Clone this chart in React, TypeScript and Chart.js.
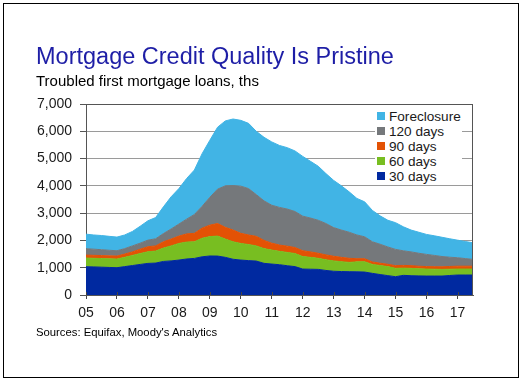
import React, { useEffect, useRef } from "react";
import { Chart, registerables } from "chart.js";

Chart.register(...registerables);

const FIRST_YEAR = 2005;
const LAST_YEAR = 2017;
const QUARTERS: string[] = [];
for (let y = FIRST_YEAR; y <= LAST_YEAR; y++) {
  for (let q = 1; q <= 4; q++) QUARTERS.push(`${y}Q${q}`);
}
const LABELS = QUARTERS.slice(0, 51); // 2005Q1 .. 2017Q3

const Y_TICKS_MAX = 7000;
const Y_STEP = 1000;

// Troubled first mortgage loans, ths (stacked)
const DAYS30 = [1037, 1030, 1020, 1010, 1000, 1040, 1080, 1120, 1158, 1170, 1230, 1250, 1280, 1320, 1341, 1400, 1430, 1427, 1380, 1310, 1280, 1260, 1244, 1160, 1134, 1110, 1073, 1040, 951, 945, 939, 900, 870, 860, 854, 850, 841, 793, 750, 710, 671, 720, 707, 700, 695, 695, 695, 715, 732, 732, 732];
const DAYS60 = [317, 315, 315, 315, 317, 340, 370, 400, 427, 440, 490, 550, 610, 620, 609, 680, 710, 733, 670, 640, 610, 590, 556, 540, 512, 490, 487, 480, 459, 435, 406, 390, 380, 360, 341, 365, 379, 329, 330, 330, 305, 265, 269, 260, 256, 250, 244, 230, 219, 219, 219];
const DAYS90 = [109, 110, 110, 110, 110, 120, 130, 160, 183, 190, 230, 250, 268, 300, 310, 370, 420, 460, 430, 430, 370, 350, 350, 300, 254, 230, 230, 220, 212, 200, 185, 180, 170, 160, 150, 115, 110, 90, 85, 85, 100, 100, 100, 95, 90, 92, 95, 100, 105, 105, 105];
const DAYS120 = [232, 225, 215, 205, 195, 200, 220, 220, 242, 260, 300, 370, 442, 540, 690, 800, 1020, 1260, 1520, 1630, 1730, 1700, 1530, 1450, 1390, 1380, 1360, 1320, 1268, 1240, 1210, 1150, 1050, 1000, 955, 870, 804, 738, 695, 635, 595, 535, 504, 475, 447, 413, 376, 340, 310, 279, 249];
const FORECLOSURE = [535, 520, 520, 510, 500, 500, 530, 620, 710, 780, 980, 1180, 1300, 1490, 1630, 1930, 2090, 2270, 2380, 2440, 2410, 2390, 2320, 2330, 2320, 2270, 2250, 2220, 2190, 2080, 1980, 1830, 1730, 1620, 1480, 1340, 1281, 1150, 1040, 980, 979, 880, 800, 770, 732, 720, 705, 675, 644, 625, 610];

const SERIES_NAMES = ["30 days", "60 days", "90 days", "120 days", "Foreclosure"];
const SERIES_DATA = [DAYS30, DAYS60, DAYS90, DAYS120, FORECLOSURE];
const SERIES_COLORS = ["#0029A0", "#78BE21", "#E35205", "#75787B", "#41B4E5"];

const FONT = "'Liberation Sans', Arial, Helvetica, sans-serif";

const framePlugin = {
  id: "framePlugin",
  afterDatasetsDraw(chart: any) {
    const { ctx, chartArea, scales } = chart;
    const { left, right, top, bottom } = chartArea;
    ctx.save();
    ctx.strokeStyle = "#555";
    ctx.lineWidth = 1;
    ctx.beginPath();
    ctx.moveTo(left, Math.round(top) + 0.5);
    ctx.lineTo(right, Math.round(top) + 0.5);
    ctx.moveTo(Math.round(right) - 0.5, top);
    ctx.lineTo(Math.round(right) - 0.5, bottom);
    ctx.stroke();
    // inner part of x ticks
    const xs = scales.x;
    ctx.strokeStyle = "#444";
    ctx.beginPath();
    for (let i = 0; i < LABELS.length; i += 4) {
      const px = Math.round(xs.getPixelForValue(i)) + 0.5;
      ctx.moveTo(px, bottom - 3);
      ctx.lineTo(px, bottom);
    }
    ctx.stroke();
    ctx.restore();
  },
};

function ChartCanvas() {
  const ref = useRef<HTMLCanvasElement>(null);
  useEffect(() => {
    const canvas = ref.current!;
    const datasets = SERIES_DATA.map((d, i) => ({
      label: SERIES_NAMES[i],
      data: d,
      backgroundColor: SERIES_COLORS[i],
      borderColor: SERIES_COLORS[i],
      borderWidth: 1,
      pointRadius: 0,
      tension: 0,
      fill: i === 0 ? "origin" : "-1",
    }));
    const chart = new Chart(canvas, {
      type: "line",
      data: { labels: LABELS, datasets: datasets as any },
      plugins: [framePlugin],
      options: {
        animation: false,
        responsive: false,
        devicePixelRatio: 1,
        layout: { padding: { left: 0, right: 51, top: 104, bottom: 58 } },
        plugins: {
          legend: { display: false },
          tooltip: { enabled: false },
          title: { display: false },
        },
        scales: {
          x: {
            type: "category",
            offset: false,
            grid: {
              drawOnChartArea: false,
              drawTicks: true,
              tickLength: 4,
              tickColor: (c: any) => (c.index % 4 === 0 ? "#444" : "rgba(0,0,0,0)"),
            },
            border: { color: "#555", width: 1 },
            ticks: {
              autoSkip: false,
              maxRotation: 0,
              minRotation: 0,
              padding: 6,
              color: "#1a1a1a",
              font: { family: FONT, size: 14 },
              callback: (_v: any, idx: number) =>
                idx % 4 === 0 ? LABELS[idx].slice(2, 4) : "",
            },
            afterFit: (s: any) => {
              s.height = 30;
            },
          },
          y: {
            stacked: true,
            min: 0,
            max: Y_TICKS_MAX,
            grid: {
              color: "#9a9a9a",
              lineWidth: 1,
              tickLength: 6,
              tickColor: "#555",
            },
            border: { color: "#555", width: 1 },
            ticks: {
              stepSize: Y_STEP,
              padding: 8,
              color: "#1a1a1a",
              font: { family: FONT, size: 14 },
              callback: (v: any) => Number(v).toLocaleString("en-US"),
            },
            afterFit: (s: any) => {
              s.width = 86;
            },
          },
        },
      },
    });
    return () => chart.destroy();
  }, []);
  return (
    <canvas
      ref={ref}
      width={524}
      height={383}
      style={{ position: "absolute", left: 0, top: 0, width: 524, height: 383 }}
    />
  );
}

const LEGEND_ORDER = [4, 3, 2, 1, 0];

export default function App() {
  return (
    <div
      style={{
        position: "absolute",
        left: 0,
        top: 0,
        width: 524,
        height: 383,
        background: "#fff",
        fontFamily: FONT,
        overflow: "hidden",
      }}
    >
      <div
        style={{
          position: "absolute",
          left: 3,
          top: 3,
          width: 514,
          height: 373,
          border: "1px solid #000",
        }}
      />
      <ChartCanvas />
      <div
        style={{
          position: "absolute",
          left: 36,
          top: 42.5,
          fontSize: 23.5,
          color: "#1E1EA6",
          whiteSpace: "nowrap",
          lineHeight: "normal",
        }}
      >
        Mortgage Credit Quality Is Pristine
      </div>
      <div
        style={{
          position: "absolute",
          left: 36,
          top: 71.5,
          fontSize: 15,
          color: "#000",
          whiteSpace: "nowrap",
          lineHeight: "normal",
        }}
      >
        Troubled first mortgage loans, ths
      </div>
      <div
        style={{
          position: "absolute",
          left: 36,
          top: 326.3,
          fontSize: 11.3,
          color: "#000",
          whiteSpace: "nowrap",
          lineHeight: "normal",
        }}
      >
        Sources: Equifax, Moody's Analytics
      </div>
      <div
        style={{
          position: "absolute",
          left: 375,
          top: 107,
          width: 87,
          height: 77,
          background: "#fff",
        }}
      >
        {LEGEND_ORDER.map((si, r) => (
          <div
            key={si}
            style={{
              position: "absolute",
              left: 2,
              top: 2 + r * 15 - 0.5,
              height: 15,
              display: "flex",
              alignItems: "center",
              whiteSpace: "nowrap",
            }}
          >
            <span
              style={{
                display: "inline-block",
                width: 8,
                height: 8,
                background: SERIES_COLORS[si],
                marginRight: 4,
              }}
            />
            <span style={{ fontSize: 13.6, color: "#1a1a1a", lineHeight: "15px" }}>
              {SERIES_NAMES[si]}
            </span>
          </div>
        ))}
      </div>
    </div>
  );
}
